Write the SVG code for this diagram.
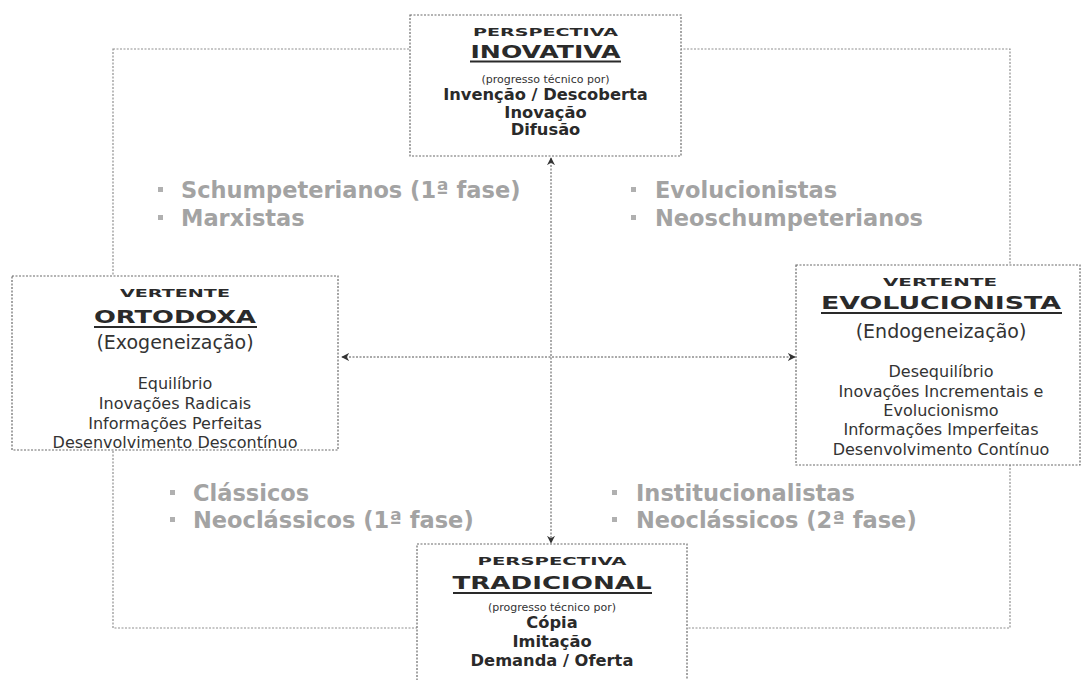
<svg xmlns="http://www.w3.org/2000/svg" width="1082" height="680" viewBox="0 0 1082 680">
<style>
.box{fill:#fff;stroke:#6a6a6a;stroke-width:1.2;stroke-dasharray:2 1.5}
.frame{fill:none;stroke:#8f8f8f;stroke-width:1.2;stroke-dasharray:2 1.5}
.conn{fill:none;stroke:#555;stroke-width:1;stroke-dasharray:2 1.5}
.hd{font-family:"DejaVu Sans",sans-serif;font-weight:bold;fill:#2a2a2a;text-anchor:middle}
.small{font-size:11px}
.big{font-size:17px}
.ul{stroke:#2a2a2a;stroke-width:2}
.sub{font-family:"DejaVu Sans",sans-serif;fill:#333;text-anchor:middle;font-size:11px}
.par{font-family:"DejaVu Sans",sans-serif;fill:#333;text-anchor:middle;font-size:19px}
.body{font-family:"DejaVu Sans",sans-serif;fill:#333;text-anchor:middle;font-size:16px}
.bold{font-family:"DejaVu Sans",sans-serif;font-weight:bold;fill:#2a2a2a;text-anchor:middle;font-size:16.3px}
.grp{font-family:"DejaVu Sans",sans-serif;font-weight:bold;fill:#a3a3a3;font-size:22.5px}
.bul{fill:#b0b0b0}
</style>
<defs>
<marker id="ah" viewBox="0 0 10 10" refX="9" refY="5" markerWidth="8" markerHeight="8" orient="auto-start-reverse" markerUnits="userSpaceOnUse">
<path d="M0,0 L10,5 L0,10 L3,5 Z" fill="#333"/>
</marker>
</defs>
<rect width="1082" height="680" fill="#fff"/>
<g id="connectors">
<rect class="frame" x="113" y="49" width="897" height="579"/>
<line class="conn" x1="551" y1="158" x2="551" y2="543" marker-start="url(#ah)" marker-end="url(#ah)"/>
<line class="conn" x1="342" y1="357" x2="795" y2="357" marker-start="url(#ah)" marker-end="url(#ah)"/>
</g>
<g id="inovativa">
<rect class="box" x="410" y="15" width="271" height="141"/>
<text class="hd small" x="545.5" y="36" textLength="145" lengthAdjust="spacingAndGlyphs">PERSPECTIVA</text>
<text class="hd big" x="545.5" y="58" textLength="150" lengthAdjust="spacingAndGlyphs">INOVATIVA</text>
<line class="ul" x1="470" y1="61.5" x2="621" y2="61.5"/>
<text class="sub" x="545.5" y="83">(progresso técnico por)</text>
<text class="bold" x="545.5" y="100">Invenção / Descoberta</text>
<text class="bold" x="545.5" y="118">Inovação</text>
<text class="bold" x="545.5" y="135">Difusão</text>
</g>
<g id="ortodoxa">
<rect class="box" x="12" y="276" width="326" height="174"/>
<text class="hd small" x="175" y="297" textLength="110" lengthAdjust="spacingAndGlyphs">VERTENTE</text>
<text class="hd big" x="175" y="323" textLength="162" lengthAdjust="spacingAndGlyphs">ORTODOXA</text>
<line class="ul" x1="94" y1="327" x2="257" y2="327"/>
<text class="par" x="175" y="349">(Exogeneização)</text>
<text class="body" x="175" y="389">Equilíbrio</text>
<text class="body" x="175" y="409">Inovações Radicais</text>
<text class="body" x="175" y="429">Informações Perfeitas</text>
<text class="body" x="175" y="448">Desenvolvimento Descontínuo</text>
</g>
<g id="evolucionista">
<rect class="box" x="796" y="265" width="284" height="200"/>
<text class="hd small" x="940" y="286" textLength="114" lengthAdjust="spacingAndGlyphs">VERTENTE</text>
<text class="hd big" x="941" y="309" textLength="240" lengthAdjust="spacingAndGlyphs">EVOLUCIONISTA</text>
<line class="ul" x1="821" y1="313" x2="1062" y2="313"/>
<text class="par" x="941" y="338">(Endogeneização)</text>
<text class="body" x="941" y="377">Desequilíbrio</text>
<text class="body" x="941" y="397">Inovações Incrementais e</text>
<text class="body" x="941" y="416">Evolucionismo</text>
<text class="body" x="941" y="435">Informações Imperfeitas</text>
<text class="body" x="941" y="455">Desenvolvimento Contínuo</text>
</g>
<g id="tradicional">
<rect class="box" x="417" y="544" width="270" height="150"/>
<text class="hd small" x="552" y="565" textLength="149" lengthAdjust="spacingAndGlyphs">PERSPECTIVA</text>
<text class="hd big" x="552" y="589" textLength="199" lengthAdjust="spacingAndGlyphs">TRADICIONAL</text>
<line class="ul" x1="453" y1="593" x2="652" y2="593"/>
<text class="sub" x="552" y="611">(progresso técnico por)</text>
<text class="bold" x="552" y="628">Cópia</text>
<text class="bold" x="552" y="647">Imitação</text>
<text class="bold" x="552" y="666">Demanda / Oferta</text>
</g>
<g id="grupo-schumpeter">
<rect class="bul" x="158" y="187" width="5" height="5"/>
<rect class="bul" x="158" y="215" width="5" height="5"/>
<text class="grp" x="181" y="198">Schumpeterianos (1ª fase)</text>
<text class="grp" x="181" y="226">Marxistas</text>
</g>
<g id="grupo-evolucionistas">
<rect class="bul" x="631" y="187" width="5" height="5"/>
<rect class="bul" x="631" y="215" width="5" height="5"/>
<text class="grp" x="655" y="198">Evolucionistas</text>
<text class="grp" x="655" y="226">Neoschumpeterianos</text>
</g>
<g id="grupo-classicos">
<rect class="bul" x="170" y="490" width="5" height="5"/>
<rect class="bul" x="170" y="517" width="5" height="5"/>
<text class="grp" x="193" y="501">Clássicos</text>
<text class="grp" x="193" y="528">Neoclássicos (1ª fase)</text>
</g>
<g id="grupo-institucionalistas">
<rect class="bul" x="612" y="490" width="5" height="5"/>
<rect class="bul" x="612" y="517" width="5" height="5"/>
<text class="grp" x="636" y="501">Institucionalistas</text>
<text class="grp" x="636" y="528">Neoclássicos (2ª fase)</text>
</g>
</svg>
